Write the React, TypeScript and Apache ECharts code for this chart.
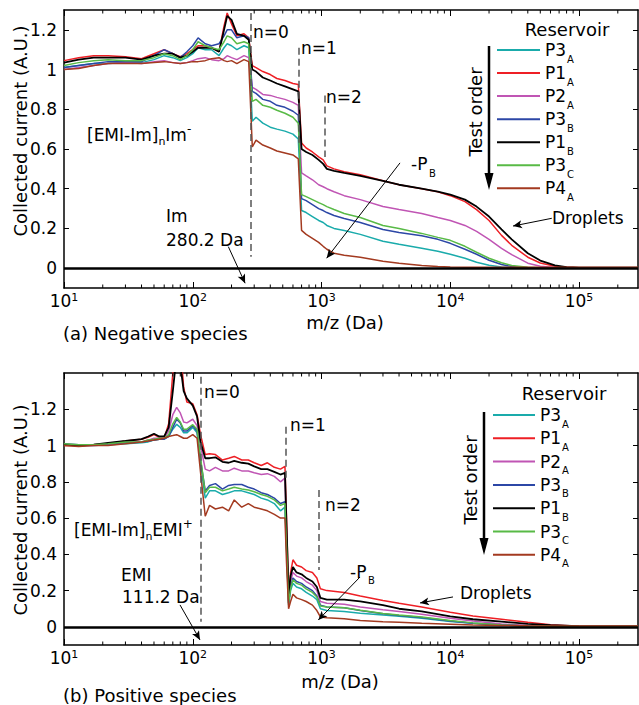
import React, { useEffect, useRef } from 'react';
import * as echarts from 'echarts';

const FONT = "'DejaVu Sans', 'Liberation Sans', Arial, sans-serif";

// ---------------- axes ----------------
const X_MIN = 10;
const X_MAX = 287000;
const X_TICKS = [10, 100, 1000, 10000, 100000];
const X_MINOR_TICKS = [20, 30, 40, 50, 60, 70, 80, 90, 200, 300, 400, 500, 600, 700, 800, 900,
  2000, 3000, 4000, 5000, 6000, 7000, 8000, 9000, 20000, 30000, 40000, 50000, 60000, 70000, 80000, 90000, 200000];
const Y_TICKS = [0, 0.2, 0.4, 0.6, 0.8, 1, 1.2];
const TOP_Y_RANGE = [-0.1, 1.3];
const BOT_Y_RANGE = [-0.1, 1.4];

// ---------------- series ----------------
const SERIES_NAMES = ['P3A', 'P1A', 'P2A', 'P3B', 'P1B', 'P3C', 'P4A'];
const SERIES_COLORS = ['#1aabab', '#ee1f25', '#c055b4', '#2c47a6', '#000000', '#58ba46', '#a33a20'];

// (a) Negative species
const TOP_MZ = [
  10, 13, 17, 22, 30, 40, 50, 60, 70, 80,
  90, 100, 110, 125, 140, 160, 175, 185, 200, 220,
  250, 272, 290, 310, 350, 400, 450, 520, 600, 660,
  700, 760, 850, 950, 1030, 1100, 1250, 1500, 2000, 3000,
  4000, 6000, 8000, 10000, 13000, 16000, 20000, 25000, 30000, 40000,
  50000, 65000, 80000, 100000, 150000, 287000];
const TOP_P3A = [
  1.01, 1.02, 1.03, 1.03, 1.035, 1.035, 1.05, 1.07, 1.06, 1.045,
  1.06, 1.08, 1.11, 1.1, 1.1, 1.07, 1.11, 1.13, 1.12, 1.1,
  1.12, 1.11, 0.74, 0.76, 0.73, 0.71, 0.7, 0.69, 0.675, 0.65,
  0.29, 0.28, 0.26, 0.24, 0.23, 0.215, 0.2, 0.19, 0.17, 0.135,
  0.12, 0.1, 0.085, 0.07, 0.05, 0.03, 0.015, 0.006, 0.002, 0.001,
  0.001, 0.001, 0.001, 0.001, 0.001, 0.001];
const TOP_P1A = [
  1.045, 1.06, 1.07, 1.07, 1.065, 1.055, 1.08, 1.1, 1.08, 1.065,
  1.08, 1.1, 1.12, 1.12, 1.11, 1.09, 1.22, 1.285, 1.23, 1.17,
  1.18, 1.16, 1.02, 1.01, 0.99, 0.975, 0.955, 0.945, 0.93, 0.925,
  0.63, 0.605, 0.585, 0.56, 0.545, 0.515, 0.5, 0.485, 0.47, 0.44,
  0.42, 0.4, 0.385, 0.365, 0.335, 0.295, 0.24, 0.165, 0.115, 0.055,
  0.026, 0.01, 0.004, 0.002, 0.002, 0.002];
const TOP_P2A = [
  1.0, 1.01, 1.02, 1.03, 1.035, 1.03, 1.04, 1.045, 1.035, 1.03,
  1.035, 1.045, 1.055, 1.06, 1.05, 1.045, 1.055, 1.07, 1.06, 1.05,
  1.07, 1.06, 0.91, 0.9, 0.875, 0.87, 0.86, 0.85, 0.835, 0.82,
  0.48, 0.465, 0.445, 0.42, 0.41, 0.4, 0.385, 0.365, 0.345, 0.31,
  0.295, 0.275, 0.255, 0.24, 0.215, 0.185, 0.145, 0.1, 0.068, 0.025,
  0.01, 0.003, 0.001, 0.001, 0.001, 0.001];
const TOP_P3B = [
  1.01, 1.02, 1.03, 1.04, 1.04, 1.04, 1.07, 1.1, 1.08, 1.06,
  1.09, 1.12, 1.16, 1.13, 1.12, 1.13, 1.17, 1.2, 1.2, 1.16,
  1.17, 1.16, 0.89, 0.88, 0.85, 0.84, 0.82, 0.81, 0.79, 0.77,
  0.35, 0.34, 0.32, 0.3, 0.29, 0.28, 0.265, 0.25, 0.23, 0.195,
  0.18, 0.163, 0.145, 0.125, 0.095, 0.07, 0.04, 0.018, 0.008, 0.002,
  0.001, 0.001, 0.001, 0.001, 0.001, 0.001];
const TOP_P1B = [
  1.035, 1.05, 1.06, 1.06, 1.06, 1.05, 1.07, 1.08, 1.08, 1.06,
  1.07, 1.09, 1.11, 1.11, 1.11, 1.09, 1.2, 1.27, 1.25, 1.18,
  1.17, 1.15, 1.0, 0.99, 0.96, 0.945, 0.93, 0.915, 0.9, 0.89,
  0.6, 0.585, 0.57, 0.545, 0.525, 0.5, 0.49, 0.48, 0.465, 0.44,
  0.42, 0.4, 0.385, 0.37, 0.345, 0.31, 0.26, 0.195, 0.145, 0.075,
  0.038, 0.014, 0.005, 0.002, 0.002, 0.002];
const TOP_P3C = [
  1.02, 1.035, 1.045, 1.05, 1.045, 1.045, 1.06, 1.08, 1.07, 1.05,
  1.07, 1.1, 1.14, 1.12, 1.11, 1.1, 1.14, 1.17, 1.16, 1.13,
  1.14, 1.13, 0.84, 0.85, 0.82, 0.81, 0.795, 0.78, 0.76, 0.73,
  0.37, 0.36, 0.345, 0.33, 0.32, 0.31, 0.295, 0.275, 0.255, 0.215,
  0.2, 0.175, 0.155, 0.14, 0.11, 0.08, 0.05, 0.027, 0.013, 0.004,
  0.002, 0.001, 0.001, 0.001, 0.001, 0.001];
const TOP_P4A = [
  1.0, 1.005, 1.02, 1.03, 1.03, 1.03, 1.035, 1.04, 1.035, 1.03,
  1.035, 1.04, 1.04, 1.045, 1.055, 1.06, 1.045, 1.04, 1.045, 1.03,
  1.05, 1.04, 0.61, 0.645, 0.62, 0.605, 0.59, 0.58, 0.57, 0.55,
  0.19, 0.17, 0.15, 0.13, 0.11, 0.095, 0.075, 0.065, 0.055, 0.035,
  0.025, 0.013, 0.008, 0.006, 0.005, 0.005, 0.005, 0.005, 0.005, 0.005,
  0.005, 0.005, 0.005, 0.005, 0.005, 0.005];

// (b) Positive species
const BOT_MZ = [
  10, 13, 17, 22, 30, 40, 45, 50, 55, 60,
  65, 70, 75, 80, 85, 90, 100, 108, 115, 125,
  135, 150, 170, 190, 210, 240, 270, 300, 340, 380,
  430, 480, 520, 535, 555, 575, 600, 640, 700, 760,
  850, 920, 980, 1100, 1500, 2000, 3000, 4000, 6000, 10000,
  15000, 25000, 40000, 60000, 100000, 150000, 287000];
const BOT_P3A = [
  1.005, 1.0, 1.0, 1.005, 1.01, 1.015, 1.02, 1.03, 1.035, 1.035,
  1.05, 1.09, 1.117, 1.1, 1.07, 1.07, 1.1, 1.07, 0.9, 0.71,
  0.75, 0.75, 0.73, 0.74, 0.75, 0.75, 0.74, 0.73, 0.71, 0.7,
  0.68, 0.64, 0.66, 0.42, 0.12, 0.2, 0.24, 0.22, 0.21, 0.19,
  0.17, 0.15, 0.1, 0.09, 0.085, 0.075, 0.065, 0.058, 0.048, 0.03,
  0.02, 0.01, 0.005, 0.003, 0.002, 0.002, 0.002];
const BOT_P1A = [
  1.0, 1.0, 1.005, 1.01, 1.025, 1.035, 1.045, 1.06, 1.045, 1.04,
  1.12, 1.4, 1.6, 1.55, 1.32, 1.24, 1.23, 1.17, 1.06, 0.95,
  0.955, 0.95, 0.92, 0.93, 0.94, 0.92, 0.92, 0.905, 0.89, 0.905,
  0.88, 0.87, 0.885, 0.6, 0.2, 0.3, 0.37, 0.34, 0.33, 0.31,
  0.3, 0.27, 0.21, 0.2, 0.19, 0.17, 0.145, 0.13, 0.11, 0.08,
  0.06, 0.042, 0.025, 0.012, 0.004, 0.002, 0.002];
const BOT_P2A = [
  1.005, 1.0, 1.0, 1.005, 1.015, 1.02, 1.03, 1.04, 1.04, 1.04,
  1.08, 1.17, 1.21, 1.18, 1.13, 1.125, 1.145, 1.11, 1.0, 0.87,
  0.86, 0.88, 0.86, 0.86, 0.875, 0.86, 0.86, 0.85, 0.84, 0.845,
  0.83, 0.8, 0.82, 0.5, 0.14, 0.25, 0.3, 0.28, 0.27, 0.25,
  0.23, 0.2, 0.14, 0.13, 0.125, 0.11, 0.095, 0.085, 0.07, 0.047,
  0.033, 0.016, 0.008, 0.004, 0.002, 0.002, 0.002];
const BOT_P3B = [
  1.01, 1.005, 1.005, 1.01, 1.015, 1.02, 1.025, 1.03, 1.035, 1.035,
  1.05, 1.1, 1.145, 1.125, 1.08, 1.08, 1.11, 1.08, 0.92, 0.75,
  0.78, 0.79, 0.76, 0.78, 0.785, 0.785, 0.77, 0.76, 0.74, 0.73,
  0.71, 0.68, 0.69, 0.45, 0.13, 0.22, 0.27, 0.25, 0.24, 0.22,
  0.2, 0.17, 0.12, 0.11, 0.105, 0.09, 0.072, 0.063, 0.052, 0.033,
  0.02, 0.01, 0.005, 0.003, 0.002, 0.002, 0.002];
const BOT_P1B = [
  1.005, 1.0, 1.005, 1.015, 1.025, 1.035, 1.05, 1.065, 1.05, 1.05,
  1.1, 1.3, 1.5, 1.45, 1.3, 1.26, 1.22, 1.16, 1.02, 0.93,
  0.93, 0.935, 0.91, 0.905, 0.915, 0.905, 0.9, 0.885, 0.87, 0.87,
  0.855, 0.84, 0.85, 0.55, 0.18, 0.28, 0.33, 0.3, 0.29, 0.27,
  0.25, 0.22, 0.16, 0.15, 0.15, 0.14, 0.12, 0.1, 0.085, 0.058,
  0.042, 0.029, 0.016, 0.01, 0.004, 0.002, 0.002];
const BOT_P3C = [
  1.01, 1.005, 1.005, 1.01, 1.02, 1.02, 1.03, 1.035, 1.04, 1.04,
  1.06, 1.12, 1.155, 1.13, 1.09, 1.09, 1.115, 1.09, 0.93, 0.74,
  0.77, 0.77, 0.75, 0.76, 0.77, 0.76, 0.755, 0.745, 0.73, 0.72,
  0.7, 0.67, 0.68, 0.44, 0.13, 0.21, 0.26, 0.24, 0.23, 0.21,
  0.19, 0.165, 0.115, 0.11, 0.105, 0.092, 0.074, 0.065, 0.054, 0.035,
  0.022, 0.01, 0.005, 0.003, 0.002, 0.002, 0.002];
const BOT_P4A = [
  1.0, 0.995, 1.0, 1.0, 1.01, 1.02, 1.025, 1.03, 1.035, 1.04,
  1.05, 1.055, 1.06, 1.05, 1.04, 1.04, 1.06, 1.04, 0.85, 0.61,
  0.67, 0.65, 0.66, 0.64, 0.7, 0.66, 0.68, 0.66, 0.65, 0.64,
  0.62, 0.6, 0.6, 0.35, 0.1, 0.14, 0.18, 0.16, 0.15, 0.14,
  0.12, 0.09, 0.055, 0.05, 0.045, 0.035, 0.028, 0.025, 0.02, 0.015,
  0.01, 0.008, 0.006, 0.005, 0.005, 0.005, 0.005];

const TOP_VALUES = [TOP_P3A, TOP_P1A, TOP_P2A, TOP_P3B, TOP_P1B, TOP_P3C, TOP_P4A];
const BOT_VALUES = [BOT_P3A, BOT_P1A, BOT_P2A, BOT_P3B, BOT_P1B, BOT_P3C, BOT_P4A];

// ---------------- annotations (data coordinates) ----------------
const TOP_CLUSTER_MZ = [280, 670, 1054];
const TOP_CLUSTER_Y = [[1.285, 0.057], [1.11, 0.62], [0.87, 0.56]];
const BOT_CLUSTER_MZ = [116, 530, 957];
const BOT_CLUSTER_Y = [[1.38, 0.028], [1.104, 0.8], [0.755, 0.314]];
const TOP_ARROWS = [[[189, 0.108], [255, -0.076]], [[4070, 0.53], [1096, 0.05]], [[61400, 0.251], [30700, 0.212]]];
const BOT_ARROWS = [[[79.6, 0.121], [113.8, -0.072]], [[1991, 0.275], [944, 0.038]], [[10500, 0.165], [5820, 0.132]]];

function xAxes(gridIndex: number) {
  const common: any = {
    type: 'log', logBase: 10, min: X_MIN, max: X_MAX, gridIndex,
    splitLine: { show: false }, minorTick: { show: false }, minorSplitLine: { show: false },
    axisLine: { show: true, onZero: false, lineStyle: { color: '#000', width: 1.5 } },
    axisTick: { show: true, inside: true, length: 6, customValues: X_TICKS, lineStyle: { color: '#000', width: 1 } },
  };
  return [
    {
      ...common, position: 'bottom',
      axisLabel: {
        show: true, customValues: X_TICKS, margin: 4,
        formatter: (v: number) => `{b|10}{s|${Math.round(Math.log10(v))}}`,
        rich: {
          b: { fontSize: 17, lineHeight: 18, fontFamily: FONT, color: '#000' },
          s: { fontSize: 11, lineHeight: 11, verticalAlign: 'top', fontFamily: FONT, color: '#000' },
        },
      },
    },
    { ...common, position: 'top', axisLabel: { show: false } },
  ];
}

function yAxes(gridIndex: number, range: number[]) {
  const common: any = {
    type: 'value', min: range[0], max: range[1], gridIndex,
    splitLine: { show: false },
    axisLine: { show: true, onZero: false, lineStyle: { color: '#000', width: 1.5 } },
    axisTick: { show: true, inside: true, length: 5, customValues: Y_TICKS, lineStyle: { color: '#000', width: 1 } },
  };
  return [
    {
      ...common, position: 'left',
      axisLabel: {
        show: true, customValues: Y_TICKS, margin: 7, color: '#000', fontSize: 17, fontFamily: FONT,
        formatter: (v: number) => String(Math.round(v * 10) / 10),
      },
    },
    { ...common, position: 'right', axisLabel: { show: false } },
  ];
}

function panelSeries(mz: number[], values: number[][], xi: number, yi: number, clusterMz: number[], clusterY: number[][], arrows: number[][][]) {
  const out: any[] = [];
  out.push({
    type: 'line', name: 'zero', xAxisIndex: xi, yAxisIndex: yi, data: [], z: 1, silent: true,
    markLine: {
      silent: true, symbol: 'none', animation: false, label: { show: false },
      lineStyle: { color: '#000', width: 2.5, type: 'solid' },
      data: [{ yAxis: 0 }],
    },
  });
  out.push({
    type: 'line', name: 'clusters', xAxisIndex: xi, yAxisIndex: yi, data: [], z: 1, silent: true,
    markLine: {
      silent: true, symbol: 'none', animation: false, label: { show: false },
      lineStyle: { color: '#555', width: 1.5, type: [7, 4] },
      data: clusterMz.map((m, i) => [{ coord: [m, clusterY[i][0]] }, { coord: [m, clusterY[i][1]] }]),
    },
  });
  out.push({
    type: 'custom', name: 'minor', xAxisIndex: xi, yAxisIndex: yi, silent: true, z: 4,
    data: X_MINOR_TICKS.map((v) => [v, 0]),
    encode: { x: 0, y: 1 },
    renderItem: (params: any, api: any) => {
      const x = api.coord([api.value(0), 0])[0];
      const cs = params.coordSys;
      const b = cs.y + cs.height;
      const t = cs.y;
      return {
        type: 'group',
        children: [
          { type: 'line', shape: { x1: x, y1: b, x2: x, y2: b - 3.5 }, style: { stroke: '#000', lineWidth: 1 } },
          { type: 'line', shape: { x1: x, y1: t, x2: x, y2: t + 3.5 }, style: { stroke: '#000', lineWidth: 1 } },
        ],
      };
    },
  });
  SERIES_NAMES.forEach((name, k) => {
    out.push({
      type: 'line', name, xAxisIndex: xi, yAxisIndex: yi, z: 3, silent: true,
      showSymbol: false, symbol: 'none', clip: true,
      lineStyle: { color: SERIES_COLORS[k], width: name === 'P1B' ? 1.8 : 1.5 },
      itemStyle: { color: SERIES_COLORS[k] },
      data: mz.map((m, i) => [m, values[k][i]]),
    });
  });
  out.push({
    type: 'line', name: 'arrows', xAxisIndex: xi, yAxisIndex: yi, data: [], z: 6, silent: true,
    markLine: {
      silent: true, symbol: ['none', 'arrow'], symbolSize: [6, 9], animation: false, label: { show: false },
      lineStyle: { color: '#000', width: 1, type: 'solid' },
      data: arrows.map((a) => [{ coord: a[0] }, { coord: a[1] }]),
    },
  });
  return out;
}

function txt(x: number, y: number, t: string, size = 17, extra: any = {}, rotation = 0) {
  return {
    type: 'text', x, y, rotation, silent: true, z: 10,
    style: { text: t, fontSize: size, fontFamily: FONT, fill: '#000', align: 'left', verticalAlign: 'middle', ...extra },
  };
}

const RICH = {
  m: { fontSize: 17, lineHeight: 24, fontFamily: FONT, fill: '#000' },
  sub: { fontSize: 11, lineHeight: 11, verticalAlign: 'bottom', fontFamily: FONT, fill: '#000' },
  sup: { fontSize: 12, lineHeight: 12, verticalAlign: 'top', fontFamily: FONT, fill: '#000' },
};

// main text plus a lowered subscript as a separate small text
function withSub(x: number, y: number, main: string, sub: string, mainWidth: number, drop: number) {
  return [
    txt(x, y, main, 17),
    txt(x + mainWidth, y + drop, sub, 10),
  ];
}

function testOrder(cx: number, cy: number, ax: number, y1: number, y2: number) {
  return [
    txt(cx, cy, 'Test order', 18, { align: 'center' }, Math.PI / 2),
    { type: 'line', silent: true, z: 10, shape: { x1: ax, y1, x2: ax, y2: y2 - 14 }, style: { stroke: '#000', lineWidth: 2.5 } },
    { type: 'polygon', silent: true, z: 10, shape: { points: [[ax - 4.5, y2 - 17], [ax + 4.5, y2 - 17], [ax, y2]] }, style: { fill: '#000' } },
  ];
}

// legend: line sample + label with subscript
function legendBlock(x1: number, x2: number, y0: number, step: number) {
  const els: any[] = [];
  SERIES_NAMES.forEach((name, i) => {
    const y = y0 + i * step;
    els.push({ type: 'line', silent: true, z: 10, shape: { x1, y1: y, x2, y2: y }, style: { stroke: SERIES_COLORS[i], lineWidth: 2 } });
    els.push(...withSub(x2 + 5, y, name.slice(0, 2), name.slice(2), 22, 9));
  });
  return els;
}

function buildOption(): any {
  const graphic: any[] = [
    // top panel
    txt(20, 131, 'Collected current (A.U.)', 18, { align: 'center' }, Math.PI / 2),
    txt(63, 333, '(a) Negative species', 18),
    txt(345, 322, 'm/z (Da)', 18, { align: 'center' }),
    txt(253, 32, 'n=0'),
    txt(301, 48, 'n=1'),
    txt(326, 97, 'n=2'),
    txt(87, 135, '{m|[EMI-Im]}{sub|n}{m|Im}{sup|-}', 17, { rich: RICH }),
    txt(166, 216, 'Im'),
    txt(166, 240, '280.2 Da'),
    ...withSub(411, 164, '-P', 'B', 18, 9),
    txt(552, 218, 'Droplets'),
    txt(567, 29.5, 'Reservoir', 18, { align: 'center' }),
    ...testOrder(475, 112, 489, 46, 190),
    ...legendBlock(497, 540, 50, 23.05),
    // bottom panel
    txt(20, 510, 'Collected current (A.U.)', 18, { align: 'center' }, Math.PI / 2),
    txt(63, 695, '(b) Positive species', 18),
    txt(340, 681, 'm/z (Da)', 18, { align: 'center' }),
    txt(204, 392, 'n=0'),
    txt(290, 425, 'n=1'),
    txt(325, 505, 'n=2'),
    txt(74, 530, '{m|[EMI-Im]}{sub|n}{m|EMI}{sup|+}', 17, { rich: RICH }),
    txt(121, 575, 'EMI'),
    txt(122, 597, '111.2 Da'),
    ...withSub(350, 572, '-P', 'B', 18, 8),
    txt(460, 593, 'Droplets'),
    txt(564, 393.5, 'Reservoir', 18, { align: 'center' }),
    ...testOrder(470.5, 480, 484, 412, 555),
    ...legendBlock(493, 535, 415, 23.3),
  ];
  return {
    animation: false,
    backgroundColor: '#fff',
    textStyle: { fontFamily: FONT },
    grid: [
      { left: 64, top: 10, width: 574, height: 278 },
      { left: 64, top: 373, width: 574, height: 272 },
    ],
    xAxis: [...xAxes(0), ...xAxes(1)],
    yAxis: [...yAxes(0, TOP_Y_RANGE), ...yAxes(1, BOT_Y_RANGE)],
    series: [
      ...panelSeries(TOP_MZ, TOP_VALUES, 0, 0, TOP_CLUSTER_MZ, TOP_CLUSTER_Y, TOP_ARROWS),
      ...panelSeries(BOT_MZ, BOT_VALUES, 2, 2, BOT_CLUSTER_MZ, BOT_CLUSTER_Y, BOT_ARROWS),
    ],
    graphic,
  };
}

export default function App() {
  const ref = useRef<HTMLDivElement>(null);
  useEffect(() => {
    if (!ref.current) return;
    const chart = echarts.init(ref.current, null, { renderer: 'svg' });
    chart.setOption(buildOption());
    return () => chart.dispose();
  }, []);
  return (
    <div
      ref={ref}
      style={{ position: 'fixed', left: 0, top: 0, width: 639, height: 705, background: '#fff' }}
    />
  );
}
